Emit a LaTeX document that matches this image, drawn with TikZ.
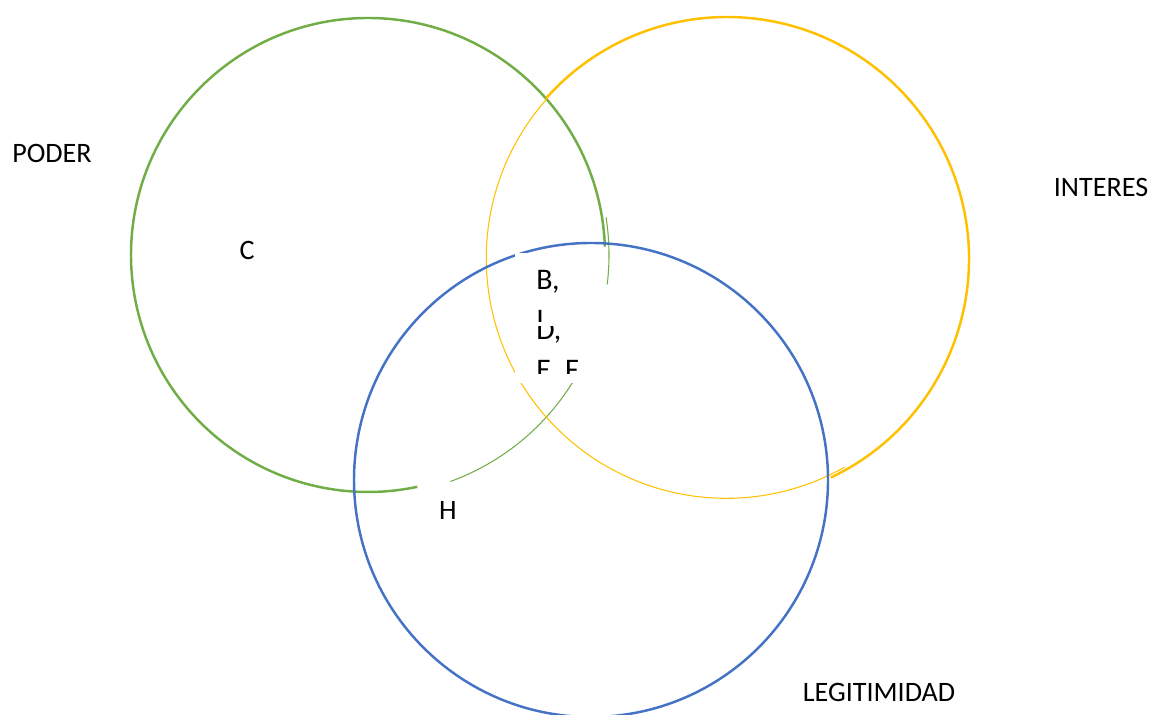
\documentclass[tikz,border=0pt]{standalone}
\usepackage{fontspec}
\setmainfont{Carlito}
\usetikzlibrary{positioning}
\definecolor{Pc}{HTML}{70AD47}
\definecolor{Ic}{HTML}{FFC000}
\definecolor{Gc}{HTML}{4472C4}
\tikzset{
  ring/.style={line width=1.4pt},
  hair/.style={line width=0.6pt},
  lbl/.style={font=\fontsize{16}{19}\selectfont, inner sep=0pt},
  boxtxt/.style={font=\fontsize{17}{20}\selectfont, inner sep=0pt, anchor=base west},
  tbox/.style={fill=white, draw=none, inner sep=0pt, minimum width=1.76cm, minimum height=2.6cm},
}
\begin{document}
\begin{tikzpicture}[x=0.02cm,y=0.02cm]
  \useasboundingbox (0,0) rectangle (1152,715);
  \clip (0,0) rectangle (1152,715);
  \coordinate (cP) at (368,460);
  \coordinate (cI) at (727,456);
  \coordinate (cG) at (591,235);
  % poder
  \draw[ring, Pc] (cP) ++(2:237) arc[start angle=2, end angle=282, radius=237];
  \draw[hair, Pc] (cP) ++(9:241) arc[start angle=9, end angle=-7, radius=241];
  \draw[hair, Pc] (cP) ++(-31:241) arc[start angle=-31, end angle=-70, radius=241];
  % interes
  \draw[ring, Ic] (cI) ++(-64.6:242) arc[start angle=-64.6, end angle=138.4, radius=242];
  \draw[hair, Ic] (cI) ++(138.4:241) arc[start angle=138.4, end angle=299.5, radius=240];
  % legitimidad
  \draw[ring, Gc] (cG) circle[radius=237];
  \node[tbox, anchor=north west] (box) at (515,462) {};
  \node[boxtxt] (b1) at (536,425) {B,};
  \begin{scope}
    \clip (515,393) rectangle (603,406);
    \node[boxtxt] (b2) at (536,385) {I};
  \end{scope}
  \begin{scope}
    \clip (515,368) rectangle (603,388);
    \node[boxtxt] (b3) at (536,375) {D,};
  \end{scope}
  \begin{scope}
    \clip (515,341) rectangle (603,355);
    \node[boxtxt] (b4) at (536,335) {E, F};
  \end{scope}
  \node[lbl] (poder) at (52,562) {PODER};
  \node[lbl] (interes) at (1101,528) {INTERES};
  \node[lbl] (legit) at (879,23) {LEGITIMIDAD};
  \node[lbl] (c) at (247,465) {C};
  \node[lbl] (h) at (448,205) {H};
\end{tikzpicture}
\end{document}
